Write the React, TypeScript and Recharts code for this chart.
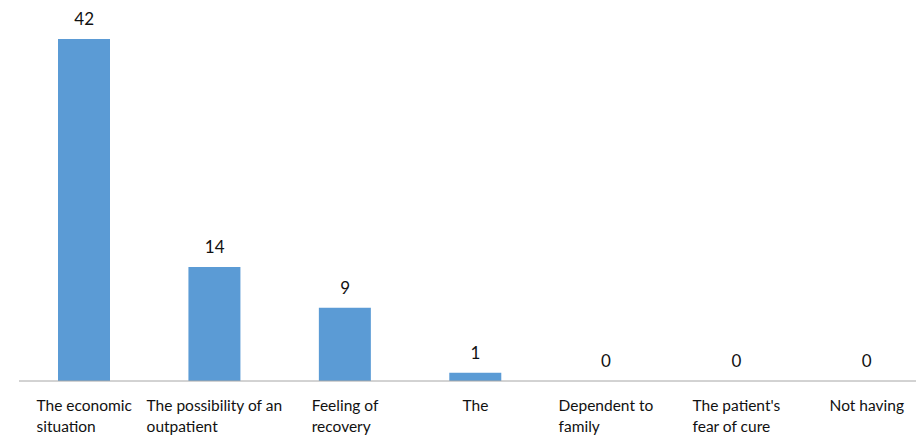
import React from 'react';
import { ComposedChart, Bar, Line, XAxis, YAxis, LabelList } from 'recharts';

const categories = [
  'The economic\nsituation',
  'The possibility of an\noutpatient',
  'Feeling of\nrecovery',
  'The',
  'Dependent to\nfamily',
  "The patient's\nfear of cure",
  'Not having',
];
const counts = [42, 14, 9, 1, 0, 0, 0];

const data = categories.map((name, i) => ({ name, value: counts[i] }));

const FONT = 'Lato, "Open Sans", sans-serif';
const TICK_SIZE = 15.5;

let ctx: CanvasRenderingContext2D | null = null;
const textWidth = (s: string) => {
  if (!ctx) ctx = document.createElement('canvas').getContext('2d');
  if (!ctx) return s.length * 7.5;
  ctx.font = `${TICK_SIZE}px ${FONT}`;
  return ctx.measureText(s).width;
};

// multi-line category label, lines left-aligned, block centred under the bar
const WrappedTick = (props: any) => {
  const { x, y, payload } = props;
  const lines: string[] = String(payload.value).split('\n');
  const w = Math.max(...lines.map(textWidth));
  return (
    <g transform={`translate(${x - w / 2},${y})`}>
      {lines.map((line, i) => (
        <text
          key={i}
          x={0}
          y={22 + i * 21}
          textAnchor="start"
          fill="#111"
          fontSize={TICK_SIZE}
          fontFamily={FONT}
        >
          {line}
        </text>
      ))}
    </g>
  );
};

const App: React.FC = () => {
  return (
    <div style={{ width: 916, height: 430, overflow: 'hidden' }}>
      <ComposedChart
        width={924}
        height={430}
        data={data}
        margin={{ top: 31, right: 0, bottom: 0, left: 11 }}
        barSize={52}
      >
        <XAxis
          dataKey="name"
          height={57}
          interval={0}
          tickLine={false}
          axisLine={{ stroke: '#a6a6a6', strokeWidth: 1 }}
          tick={<WrappedTick />}
        />
        <YAxis hide domain={[0, 42]} />
        <Bar dataKey="value" fill="#5b9bd5" isAnimationActive={false} />
        {/* invisible series that carries the value labels, zeros included */}
        <Line
          dataKey="value"
          stroke="none"
          dot={false}
          activeDot={false}
          isAnimationActive={false}
        >
          <LabelList
            dataKey="value"
            position="top"
            offset={14}
            fill="#111"
            fontSize={17}
            fontFamily={FONT}
          />
        </Line>
      </ComposedChart>
    </div>
  );
};

export default App;
